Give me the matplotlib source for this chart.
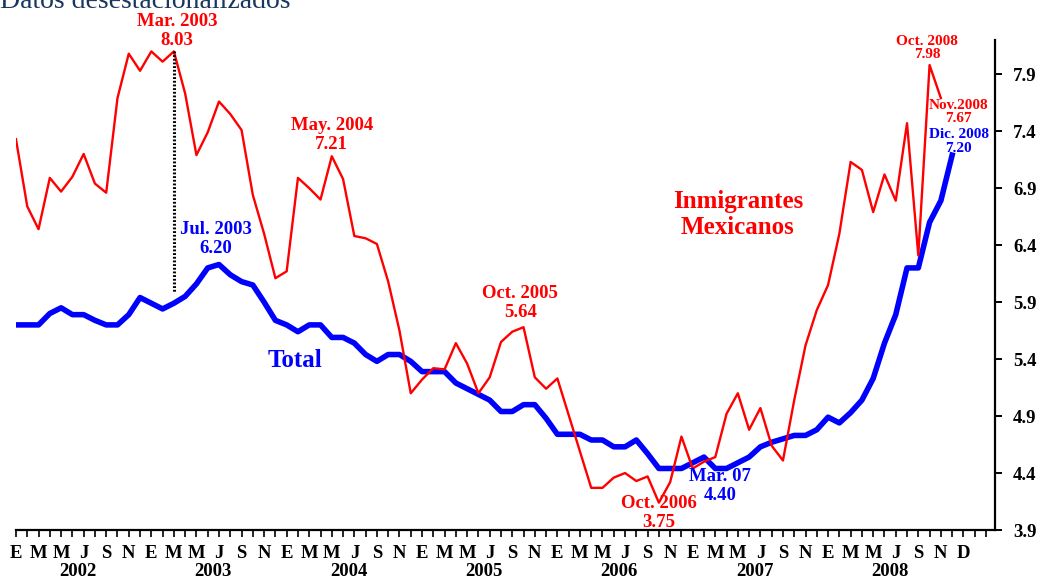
import matplotlib
matplotlib.use("Agg")
import matplotlib.pyplot as plt
import matplotlib.transforms as mtransforms

plt.rcParams['font.family'] = ['Liberation Serif', 'DejaVu Serif']
plt.rcParams['font.weight'] = 'bold'

# mensual, enero 2002 - diciembre 2008
inmigrantes = [7.33, 6.74, 6.54, 6.99, 6.87, 7.00, 7.20, 6.94, 6.86, 7.69, 8.08, 7.93,
               8.10, 8.01, 8.10, 7.73, 7.19, 7.39, 7.66, 7.55, 7.41, 6.84, 6.50, 6.11,
               6.17, 6.99, 6.90, 6.80, 7.18, 6.98, 6.48, 6.46, 6.41, 6.08, 5.65, 5.10,
               5.22, 5.32, 5.31, 5.54, 5.36, 5.10, 5.24, 5.55, 5.64, 5.68, 5.24, 5.14,
               5.23, 4.91, 4.59, 4.27, 4.27, 4.36, 4.40, 4.33, 4.37, 4.14, 4.32, 4.72,
               4.44, 4.50, 4.54, 4.92, 5.10, 4.78, 4.97, 4.64, 4.51, 5.04, 5.52, 5.83,
               6.05, 6.50, 7.13, 7.06, 6.69, 7.02, 6.79, 7.47, 6.31, 7.98, 7.69]
total = [5.70, 5.70, 5.70, 5.80, 5.85, 5.79, 5.79, 5.74, 5.70, 5.70, 5.79, 5.94,
         5.89, 5.84, 5.89, 5.95, 6.06, 6.20, 6.23, 6.14, 6.08, 6.05, 5.90, 5.74,
         5.70, 5.64, 5.70, 5.70, 5.59, 5.59, 5.54, 5.44, 5.38, 5.44, 5.44, 5.38,
         5.29, 5.29, 5.29, 5.19, 5.14, 5.09, 5.04, 4.94, 4.94, 5.00, 5.00, 4.88,
         4.74, 4.74, 4.74, 4.69, 4.69, 4.63, 4.63, 4.69, 4.57, 4.44, 4.44, 4.44,
         4.49, 4.54, 4.44, 4.44, 4.49, 4.54, 4.63, 4.67, 4.70, 4.73, 4.73, 4.78,
         4.89, 4.84, 4.93, 5.04, 5.23, 5.54, 5.79, 6.20, 6.20, 6.60, 6.79, 7.19]
meses = ['E', 'F', 'M', 'A', 'M', 'J', 'J', 'A', 'S', 'O', 'N', 'D']
anios = ['2002', '2003', '2004', '2005', '2006', '2007', '2008']
yticks = [3.9, 4.4, 4.9, 5.4, 5.9, 6.4, 6.9, 7.4, 7.9]

ROJO = '#ff0000'
AZUL = '#0000ff'

fig = plt.figure(figsize=(10.37, 5.79), dpi=100)
ax = fig.add_axes([0.0154, 0.0846, 0.9441, 0.8463])

ax.plot(range(len(inmigrantes)), inmigrantes, color=ROJO, lw=1.7, zorder=3)
ax.plot(range(len(total)), total, color=AZUL, lw=4.0, zorder=2)

# linea punteada desde el maximo de marzo 2003
ax.plot([14, 14], [inmigrantes[14], total[14] + 0.1], color='black', lw=2.2,
        ls=(0, (0.6, 0.6)), zorder=4)

ax.set_xlim(0, 86.8)
ax.set_ylim(3.9, 8.2)

for s in ['left', 'top']:
    ax.spines[s].set_visible(False)
for s in ['right', 'bottom']:
    ax.spines[s].set_linewidth(1.6)

ax.yaxis.tick_right()
ax.set_yticks(yticks)
ax.set_yticklabels(['%.1f' % v for v in yticks])
ax.tick_params(axis='y', direction='out', length=5, width=1.4, pad=8, labelsize=13.5)

n = 87
labels = []
for i in range(n):
    if i < 84 and i % 2 == 0:
        labels.append(meses[i % 12])
    else:
        labels.append('')
labels[84] = 'D'
ax.set_xticks(range(n))
ax.set_xticklabels(labels)
ax.tick_params(axis='x', direction='out', length=5, width=1.2, pad=6, labelsize=13.5)

trans = mtransforms.blended_transform_factory(ax.transData, ax.transAxes)
for k, a in enumerate(anios):
    ax.text(12 * k + 5.5, -0.085, a, transform=trans, ha='center', va='center',
            fontsize=13.5, fontweight='bold')

def nota(x, y, s, color, size=13.5, ls=1.15):
    ax.text(x, y, s, color=color, fontsize=size, fontweight='bold', ha='center',
            va='center', linespacing=ls, clip_on=False)

nota(14.27, 8.28, 'Mar. 2003\n8.03', ROJO)
nota(17.7, 6.45, 'Jul. 2003\n6.20', AZUL)
nota(28.0, 7.37, 'May. 2004\n7.21', ROJO)
nota(44.7, 5.89, 'Oct. 2005\n5.64', ROJO)
nota(57.0, 4.05, 'Oct. 2006\n3.75', ROJO)
nota(62.4, 4.29, 'Mar. 07\n4.40', AZUL)
nota(80.8, 8.13, 'Oct. 2008\n7.98', ROJO, size=11, ls=1.05)
nota(83.6, 7.57, 'Nov.2008\n7.67', ROJO, size=11, ls=1.05)
nota(83.6, 7.31, 'Dic. 2008\n7.20', AZUL, size=11, ls=1.05)
nota(64.0, 6.67, 'Inmigrantes\nMexicanos', ROJO, size=18, ls=1.2)
nota(24.7, 5.39, 'Total', AZUL, size=18)

fig.text(0.0, 0.986, 'Datos desestacionalizados', color='#17375e', fontsize=20,
         fontweight='normal', ha='left', va='baseline')

fig.savefig('out.png', dpi=100)
